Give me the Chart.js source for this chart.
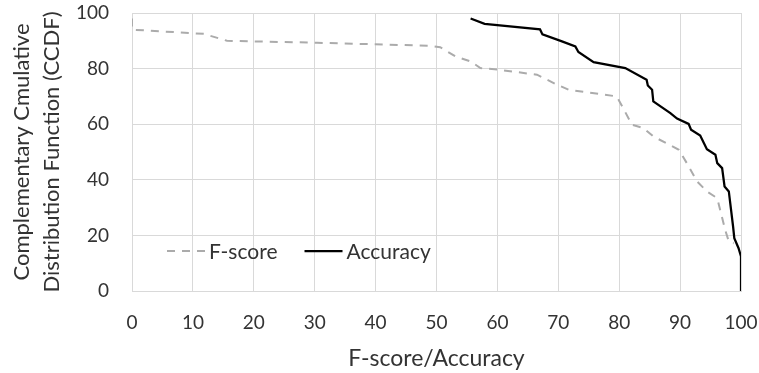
<!DOCTYPE html>
<html>
<head>
<meta charset="utf-8">
<script src="https://cdn.jsdelivr.net/npm/chart.js@4"></script>
<style>
    html, body { margin: 0; padding: 0; background: #fff; }
    #wrap { width: 759px; height: 373px; }
</style>
</head>
<body>
<div id="wrap"><canvas id="ccdfChart" width="759" height="373"></canvas></div>
<script>
// values
const fscoreX = [0, 0, 11.8, 15.6, 30.4, 49, 50.6, 53.1, 55.6, 57.2, 60.2, 66.5, 69.8, 71.7, 79.6, 80.5, 82.1, 84, 85.6, 88.4, 89.8, 91.1, 92.8, 94.4, 96.1, 97.4, 98, 98.8];
const fscoreY = [98, 94, 92.5, 90, 89.3, 88.2, 87.7, 84.4, 82.6, 80.2, 79.6, 77.8, 74.2, 72.4, 70, 66.4, 59.8, 58.6, 55.6, 52.4, 50.8, 46, 39.4, 35.8, 33.4, 22, 17.8, 17.2];
const accuracyX = [55.6, 57.9, 67.0, 67.4, 70.6, 72.8, 73.3, 75.8, 81, 84.5, 84.7, 85.4, 85.6, 88.4, 89.5, 91.4, 91.8, 93.3, 93.9, 94.4, 95.8, 96.1, 96.9, 97.3, 98, 98.7, 98.9, 99.6, 100, 100];
const accuracyY = [98, 96.1, 94.1, 92.3, 89.8, 88, 86, 82.3, 80.2, 76, 73.9, 72.4, 68.2, 64, 62, 60.1, 58, 55.9, 53.2, 51, 49, 46, 44.2, 37.6, 35.8, 23.2, 19, 15.4, 12.4, 0];
const seriesNames = ['F-score', 'Accuracy'];
const xTitle = 'F-score/Accuracy';
const yTitle = ['Complementary Cmulative', 'Distribution Function (CCDF)'];

const FONT = 'Lato, "Open Sans", sans-serif';
const TEXT = '#333333';
const GRID = '#d9d9d9';

function toPoints(xs, ys) {
    return xs.map((x, i) => ({ x: x, y: ys[i] }));
}

// legend sits inside the plot, lower left
const insideLegend = {
    id: 'insideLegend',
    afterDatasetsDraw(chart) {
        const ctx = chart.ctx;
        const area = chart.chartArea;
        let x = area.left + 35;
        const y = area.bottom - 40;
        ctx.save();
        ctx.font = '21px ' + FONT;
        ctx.textBaseline = 'middle';
        chart.data.datasets.forEach(ds => {
            ctx.strokeStyle = ds.borderColor;
            ctx.lineWidth = ds.borderWidth;
            ctx.setLineDash(ds.borderDash || []);
            ctx.beginPath();
            ctx.moveTo(x, y);
            ctx.lineTo(x + 38, y);
            ctx.stroke();
            ctx.setLineDash([]);
            ctx.fillStyle = TEXT;
            ctx.fillText(ds.label, x + 42, y + 1);
            x += 42 + ctx.measureText(ds.label).width + 27;
        });
        ctx.restore();
    }
};

new Chart(document.getElementById('ccdfChart'), {
    type: 'scatter',
    data: {
        datasets: [{
            label: seriesNames[0],
            data: toPoints(fscoreX, fscoreY),
            showLine: true,
            borderColor: '#ababab',
            borderWidth: 2,
            borderDash: [8, 7],
            pointRadius: 0,
            tension: 0
        }, {
            label: seriesNames[1],
            data: toPoints(accuracyX, accuracyY),
            showLine: true,
            borderColor: '#000000',
            borderWidth: 2.25,
            pointRadius: 0,
            tension: 0
        }]
    },
    options: {
        responsive: false,
        animation: false,
        layout: { padding: { top: 13, right: 18, left: 0, bottom: 0 } },
        plugins: {
            legend: { display: false },
            tooltip: { enabled: false }
        },
        scales: {
            x: {
                type: 'linear',
                min: 0,
                max: 100,
                ticks: { stepSize: 10, color: TEXT, font: { family: FONT, size: 19 }, padding: 20 },
                grid: { color: GRID, drawTicks: false },
                border: { color: GRID },
                title: { display: true, text: xTitle, color: TEXT, font: { family: FONT, size: 23 }, padding: { top: 4, bottom: 1 } },
                afterFit: s => {
                    s.height = 82;
                    s.paddingLeft = 0;
                    s.paddingRight = 0;
                }
            },
            y: {
                min: 0,
                max: 100,
                ticks: { stepSize: 20, color: TEXT, font: { family: FONT, size: 19 }, padding: 23 },
                grid: { color: GRID, drawTicks: false },
                border: { color: GRID },
                title: { display: true, text: yTitle, color: TEXT, font: { family: FONT, size: 22, lineHeight: 1.364 }, padding: { top: 6.7, bottom: 0 } },
                afterFit: s => {
                    s.width = 132;
                    s.paddingTop = 0;
                    s.paddingBottom = 0;
                }
            }
        }
    },
    plugins: [insideLegend]
});
</script>
</body>
</html>
